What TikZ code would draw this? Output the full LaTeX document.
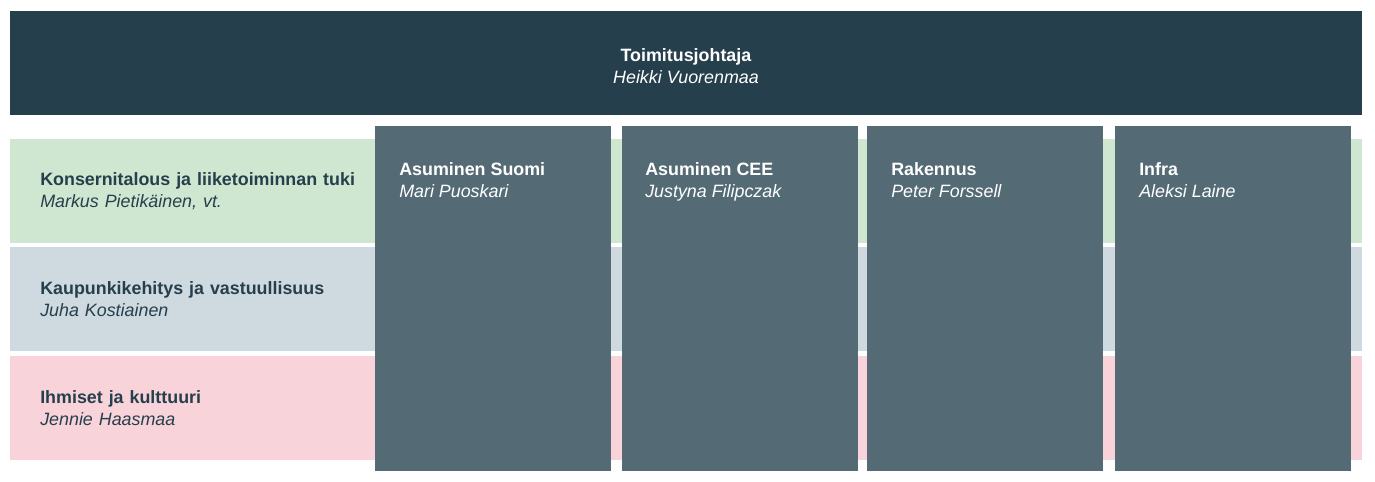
\documentclass[tikz,border=0pt]{standalone}
\usepackage{fontspec}
\setmainfont{Liberation Sans}
\usepackage{xcolor}
\definecolor{hdark}{RGB}{38,63,76}
\definecolor{hunit}{RGB}{84,107,117}
\definecolor{hgreen}{RGB}{207,230,208}
\definecolor{hblue}{RGB}{207,217,224}
\definecolor{hpink}{RGB}{248,211,218}
\def\u{0.75pt}
\tikzset{
  every node/.style={font=\fontsize{13.4}{16.5}\selectfont},
  topbox/.style={fill=hdark, inner sep=0pt,
    minimum width={1352*\u}, minimum height={104*\u}},
  rowbox/.style={anchor=north west, inner xsep={30*\u}, inner ysep=0pt,
    text width={1292*\u}, align=left, minimum height={104*\u}, text=hdark},
  unitbox/.style={anchor=north west, fill=hunit, inner sep=0pt,
    minimum width={236*\u}, minimum height={345*\u}},
  unittext/.style={anchor=north west, inner sep=0pt, align=left, text=white},
}

\begin{document}
\begin{tikzpicture}[x=\u, y=-\u]
\useasboundingbox (0,0) rectangle (1375,482);
\node[topbox] (ceo) at (686,63) {};
\node[align=center, text=white, inner sep=0pt] at ([yshift={-3*\u}]ceo.center) (ceotxt) {\textbf{Toimitusjohtaja}\\\textit{Heikki Vuorenmaa}};
\node[rowbox, fill=hgreen] (talous) at (10,139) {\textbf{Konsernitalous ja liiketoiminnan tuki}\\\textit{Markus Pietikäinen, vt.}};
\node[rowbox, fill=hblue] (kehitys) at (10,247) {\textbf{Kaupunkikehitys ja vastuullisuus}\\\textit{Juha Kostiainen}};
\node[rowbox, fill=hpink] (ihmiset) at (10,356) {\textbf{Ihmiset ja kulttuuri}\\\textit{Jennie Haasmaa}};
\node[unitbox] (suomi) at (375,126) {};
\node[unitbox] (cee) at (622,126) {};
\node[unitbox] (rakennus) at (867,126) {};
\node[unitbox] (infra) at (1115,126) {};
\node[unittext] at ([xshift={24*\u}, yshift={-36*\u}]suomi.north west) (suomitxt) {\textbf{Asuminen Suomi}\\\textit{Mari Puoskari}};
\node[unittext] at ([xshift={23*\u}, yshift={-36*\u}]cee.north west) (ceetxt) {\textbf{Asuminen CEE}\\\textit{Justyna Filipczak}};
\node[unittext] at ([xshift={24*\u}, yshift={-36*\u}]rakennus.north west) (rakennustxt) {\textbf{Rakennus}\\\textit{Peter Forssell}};
\node[unittext] at ([xshift={24*\u}, yshift={-36*\u}]infra.north west) (infratxt) {\textbf{Infra}\\\textit{Aleksi Laine}};
\end{tikzpicture}
\end{document}
